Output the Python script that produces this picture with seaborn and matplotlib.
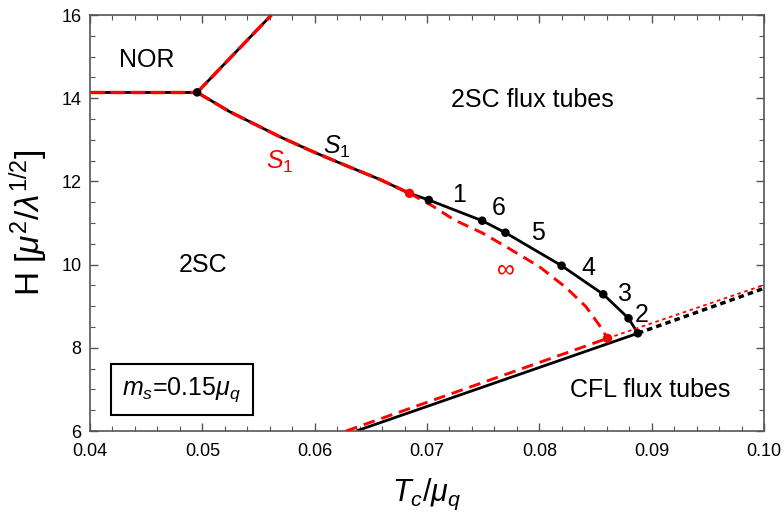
import matplotlib
matplotlib.use("Agg")
import matplotlib.pyplot as plt
import seaborn as sns
import pandas as pd
import numpy as np

# ---- data ----
# NOR / 2SC boundary (horizontal) and NOR / 2SC-flux-tube boundary
nor_h_x = [0.040, 0.04954]
nor_h_y = [14.14, 14.14]
nor_up_x = [0.04954, 0.05615]
nor_up_y = [14.14, 16.0]

# S1 line (shared by black and red)
s1_x = [0.04954, 0.05244, 0.05689, 0.05985, 0.06282, 0.06578, 0.06844]
s1_y = [14.14, 13.675, 13.075, 12.714, 12.377, 12.050, 11.714]

# black curve with labelled points
blk_x = [0.06844, 0.07016, 0.07491, 0.07698, 0.08198, 0.08569, 0.08794, 0.08877]
blk_y = [11.714, 11.553, 11.055, 10.767, 9.974, 9.286, 8.709, 8.349]
pt_x = [0.07016, 0.07491, 0.07698, 0.08198, 0.08569, 0.08794, 0.08877]
pt_y = [11.553, 11.055, 10.767, 9.974, 9.286, 8.709, 8.349]
pt_lab = ["1", "6", "5", "4", "3", "2"]
lab_x = [0.07289, 0.07638, 0.07985, 0.08438, 0.08764, 0.08913]
lab_y = [11.67, 11.35, 10.75, 9.93, 9.29, 8.79]

# red "infinity" curve
inf_x = [0.06844, 0.07049, 0.07244, 0.07493, 0.07704, 0.08000, 0.08237, 0.08415, 0.08533, 0.08607]
inf_y = [11.714, 11.409, 11.072, 10.760, 10.430, 9.950, 9.450, 8.988, 8.548, 8.228]

# lower boundaries (2SC / CFL)
blk_low_x = [0.0637, 0.08877]
blk_low_y = [6.0, 8.349]
red_low_x = [0.0628, 0.08607]
red_low_y = [6.0, 8.228]
blk_dot_x = [0.08877, 0.100]
blk_dot_y = [8.349, 9.43]
red_dot_x = [0.08607, 0.100]
red_dot_y = [8.228, 9.51]

triple_x, triple_y = [0.04954], [14.14]
red_pts_x = [0.06844, 0.08607]
red_pts_y = [11.714, 8.228]

# ---- figure ----
sns.set_style("ticks")
plt.rcParams['font.family'] = ['Liberation Sans', 'DejaVu Sans']
plt.rcParams['mathtext.fontset'] = 'custom'
plt.rcParams['mathtext.rm'] = 'Liberation Sans'
plt.rcParams['mathtext.it'] = 'Liberation Sans:italic'
plt.rcParams['mathtext.bf'] = 'Liberation Sans:bold'
plt.rcParams['text.color'] = 'black'
plt.rcParams['axes.labelcolor'] = 'black'
plt.rcParams['xtick.labelcolor'] = 'black'
plt.rcParams['ytick.labelcolor'] = 'black'

fig = plt.figure(figsize=(7.84, 5.13), dpi=100)
ax = fig.add_axes([90/784, 1-431/513, (764-90)/784, (431-15)/513])

RED = '#ff0000'
BLK = 'black'

def line(x, y, color, lw, dashes=None, z=2):
    d = pd.DataFrame({'x': x, 'y': y})
    sns.lineplot(data=d, x='x', y='y', ax=ax, color=color, lw=lw, sort=False,
                 estimator=None, zorder=z)
    l = ax.lines[-1]
    if dashes is not None:
        l.set_dashes(dashes)
    l.set_solid_capstyle('butt')
    l.set_dash_capstyle('butt')
    return l

# black solid lines
line(nor_h_x, nor_h_y, BLK, 2.0)
line(nor_up_x, nor_up_y, BLK, 2.0)
line(s1_x, s1_y, BLK, 2.0)
line(blk_x, blk_y, BLK, 2.0)
line(blk_low_x, blk_low_y, BLK, 2.0)
line(blk_dot_x, blk_dot_y, BLK, 2.5, dashes=(1.6, 1.2))
line(red_dot_x, red_dot_y, RED, 1.3, dashes=(2.0, 2.0), z=3)

# red dashed lines
line(nor_h_x, nor_h_y, RED, 2.4, dashes=(4.4, 1.6), z=3)
line(nor_up_x, nor_up_y, RED, 2.4, dashes=(4.4, 1.6), z=3)
line(s1_x, s1_y, RED, 2.4, dashes=(4.4, 1.6), z=3)
line(inf_x, inf_y, RED, 2.1, dashes=(4, 2.4), z=3)
line(red_low_x, red_low_y, RED, 2.1, dashes=(4, 2.4), z=3)

# points
sns.scatterplot(x=pt_x, y=pt_y, ax=ax, color=BLK, s=38, edgecolor='none', zorder=5)
sns.scatterplot(x=triple_x, y=triple_y, ax=ax, color=BLK, s=38, edgecolor='none', zorder=5)
sns.scatterplot(x=red_pts_x, y=red_pts_y, ax=ax, color=RED, s=45, edgecolor='none', zorder=6)

# labels for points
for lx, ly, t in zip(lab_x, lab_y, pt_lab):
    ax.text(lx, ly, t, fontsize=18, ha='center', va='center', color='black')

ax.text(0.07698, 9.92, r'$\infty$', fontsize=18, color=RED, ha='center', va='center')
ax.text(0.06200, 12.83, r'$S_1$', fontsize=18, color='black', ha='center', va='center')
ax.text(0.05689, 12.47, r'$S_1$', fontsize=18, color=RED, ha='center', va='center')

ax.text(0.04507, 14.92, 'NOR', fontsize=18, ha='center', va='center')
ax.text(0.05004, 9.99, '2SC', fontsize=18, ha='center', va='center')
ax.text(0.0794, 13.96, '2SC flux tubes', fontsize=18, ha='center', va='center')
ax.text(0.08987, 6.99, 'CFL flux tubes', fontsize=18, ha='center', va='center')
ax.text(0.04818, 6.99, r'$m_s$=0.15$\mu_q$', fontsize=18, ha='center', va='center',
        bbox=dict(boxstyle='square,pad=0.45', fc='white', ec='black', lw=1.5))

ax.set_xlim(0.04, 0.10)
ax.set_ylim(6, 16)
ax.set_xticks([0.04, 0.05, 0.06, 0.07, 0.08, 0.09, 0.10])
ax.set_xticklabels(['0.04', '0.05', '0.06', '0.07', '0.08', '0.09', '0.10'])
ax.set_yticks([6, 8, 10, 12, 14, 16])
ax.set_xticks(np.arange(0.04, 0.1001, 0.002), minor=True)
ax.set_yticks(np.arange(6, 16.01, 0.5), minor=True)
ax.tick_params(which='both', direction='in', top=True, right=True, color='#555555',
               labelsize=13)
ax.tick_params(axis='x', pad=9)
ax.tick_params(axis='y', pad=6)
ax.tick_params(which='major', length=6, width=1)
ax.tick_params(which='minor', length=3.5, width=0.8)
for s in ax.spines.values():
    s.set_color('#555555')
    s.set_linewidth(1.2)

ax.set_xlabel(r'$T_c/\mu_q$', fontsize=22, labelpad=12)
ax.set_ylabel(r'H [$\mu^2/\lambda^{1/2}$]', fontsize=24, labelpad=8)

fig.savefig('out.png', dpi=100)
